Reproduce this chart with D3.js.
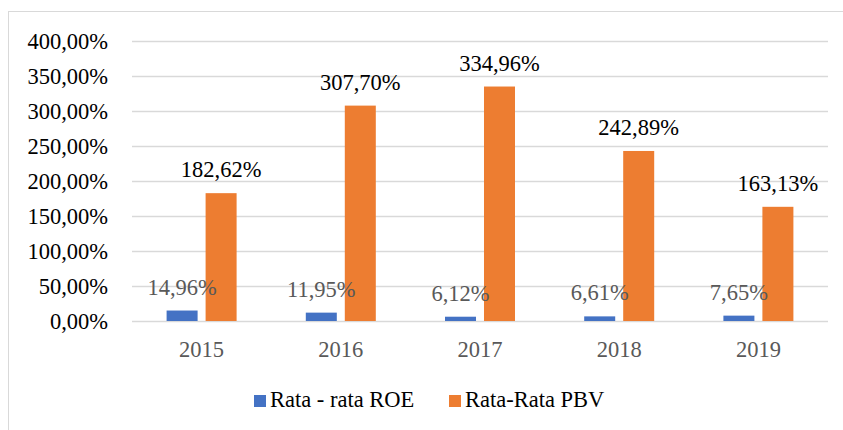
<!DOCTYPE html>
<html>
<head>
<meta charset="utf-8">
<script src="https://cdn.jsdelivr.net/npm/d3@7"></script>
<style>
  html, body { margin: 0; padding: 0; background: #fff; }
</style>
</head>
<body>
<div id="chart"></div>
<script>
const years = ['2015', '2016', '2017', '2018', '2019'];
const roe = [14.96, 11.95, 6.12, 6.61, 7.65];
const pbv = [182.62, 307.70, 334.96, 242.89, 163.13];
const seriesNames = ['Rata - rata ROE', 'Rata-Rata PBV'];
const yTicks = [0, 50, 100, 150, 200, 250, 300, 350, 400];

const width = 843, height = 430;
const margin = { top: 41, right: 15, bottom: 109, left: 132 };
const colors = ['#4472C4', '#ED7D31'];
const font = "'Liberation Serif', 'Times New Roman', Times, 'DejaVu Serif', serif";
const fs = '22.5px';

const fmt = v => v.toFixed(2).replace('.', ',') + '%';

const svg = d3.select('#chart')
  .append('svg')
  .attr('width', width)
  .attr('height', height)
  .style('display', 'block')
  .attr('font-family', font);

// chart area border (left + top visible)
svg.append('rect')
  .attr('x', 8.5)
  .attr('y', 11.5)
  .attr('width', 900)
  .attr('height', 500)
  .attr('fill', 'none')
  .attr('stroke', '#D9D9D9')
  .attr('stroke-width', 1);

const x0 = d3.scaleBand()
  .domain(years)
  .range([margin.left, width - margin.right]);

const groupW = 70;
const x1 = d3.scaleBand()
  .domain([0, 1])
  .range([0, groupW])
  .paddingInner(0.205);

const y = d3.scaleLinear()
  .domain([0, 400])
  .range([height - margin.bottom, margin.top]);

// gridlines
svg.append('g')
  .attr('transform', `translate(${margin.left},0)`)
  .call(d3.axisLeft(y).tickValues(yTicks).tickSize(-(width - margin.left - margin.right)).tickFormat(() => ''))
  .call(g => g.select('.domain').remove())
  .selectAll('line')
  .attr('stroke', '#D9D9D9')
  .attr('stroke-width', 1.5);

// y tick labels
svg.append('g')
  .selectAll('text')
  .data(yTicks)
  .enter()
  .append('text')
  .attr('x', 108)
  .attr('y', d => y(d))
  .attr('dy', '0.35em')
  .attr('text-anchor', 'end')
  .attr('font-family', font)
  .attr('font-size', fs)
  .attr('fill', '#000')
  .text(d => fmt(d));

const rows = years.map((yr, i) => ({ year: yr, values: [roe[i], pbv[i]] }));

const groups = svg.selectAll('.grp')
  .data(rows)
  .enter()
  .append('g')
  .attr('class', 'grp')
  .attr('transform', d => `translate(${x0(d.year) + x0.bandwidth() / 2 - groupW / 2},0)`);

groups.selectAll('rect')
  .data(d => d.values.map((v, k) => ({ v, k })))
  .enter()
  .append('rect')
  .attr('x', d => x1(d.k))
  .attr('width', x1.bandwidth())
  .attr('y', d => y(d.v))
  .attr('height', d => y(0) - y(d.v))
  .attr('fill', d => colors[d.k]);

groups.selectAll('.lbl')
  .data(d => d.values.map((v, k) => ({ v, k })))
  .enter()
  .append('text')
  .attr('class', 'lbl')
  .attr('x', d => x1(d.k) + x1.bandwidth() / 2)
  .attr('y', d => y(d.v) - 16)
  .attr('text-anchor', 'middle')
  .attr('font-family', font)
  .attr('font-size', fs)
  .attr('fill', d => d.k === 0 ? '#595959' : '#000')
  .text(d => fmt(d.v));

// category labels
svg.append('g')
  .selectAll('text')
  .data(years)
  .enter()
  .append('text')
  .attr('x', d => x0(d) + x0.bandwidth() / 2)
  .attr('y', 357)
  .attr('text-anchor', 'middle')
  .attr('font-family', font)
  .attr('font-size', fs)
  .attr('fill', '#595959')
  .text(d => d);

// legend
const legendX = [254, 449];
const legend = svg.append('g')
  .selectAll('g')
  .data(seriesNames)
  .enter()
  .append('g')
  .attr('transform', (d, i) => `translate(${legendX[i]},395)`);

legend.append('rect')
  .attr('width', 12)
  .attr('height', 12)
  .attr('fill', (d, i) => colors[i]);

legend.append('text')
  .attr('x', 16)
  .attr('y', 12)
  .attr('font-family', font)
  .attr('font-size', fs)
  .attr('fill', '#000')
  .text(d => d);
</script>
</body>
</html>
